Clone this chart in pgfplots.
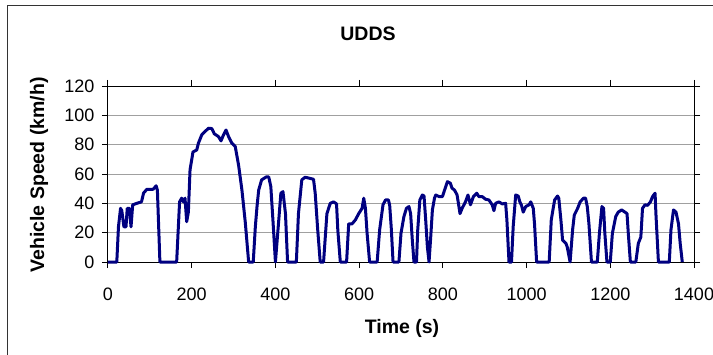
\documentclass[border=0pt]{standalone}
\usepackage{fontspec}
\setmainfont{Liberation Sans}
\usepackage{pgfplots}
\pgfplotsset{compat=1.18}
\definecolor{navyline}{RGB}{0,0,128}
\definecolor{gridgray}{RGB}{160,160,160}
\begin{document}
\begin{tikzpicture}
\begin{axis}[
  at={(0pt,0pt)}, anchor=south west,
  scale only axis, width=586pt, height=176pt,
  xmin=0, xmax=1400, ymin=0, ymax=120,
  xtick={0,200,...,1400}, ytick={0,20,...,120},
  tick align=outside, major tick length=6pt,
  ymajorgrids, grid style={color=gridgray, line width=1pt},
  axis line style={line width=1pt, black},
  tick style={black, line width=1pt},
  ticklabel style={font=\fontsize{18}{20}\selectfont},
  /pgf/number format/assume math mode=true,
  /pgf/number format/1000 sep={},
  xticklabel style={anchor=base, yshift=-32pt},
  yticklabel style={xshift=-4pt},
  clip=false,
]
\addplot[navyline, line width=3pt, line join=round] coordinates {
(0,0) (21,0) (25,24) (30,36.6) (33,35) (38,24) (43,24) (46,36.6) (51,36.6) (55,24)
(59,39) (69,40) (80,41) (85,47) (93,49.6) (108,49.6) (115,52) (118,49) (124,0) (164,0)
(171,41) (176,43.5) (180,41) (184,43.5) (188,27.5) (192,34) (196,62.8) (203,75) (212,76.4) (216,81)
(224,86.7) (232,89) (240,91.2) (248,91) (254,87.4) (264,85.5) (270,82.6) (276,86.7) (282,90) (288,85.5)
(296,81) (304,78.7) (312,66) (320,49) (328,27) (336,0) (347,0) (352,24) (356,37.8) (360,49)
(367,56) (378,58) (384,58) (389,51.4) (394,28.7) (400,0) (408,28.7) (413,46.9) (418,48) (424,33)
(429,0) (450,0) (455,33) (463,56) (471,57.8) (483,57) (491,56.4) (495,47) (501,22) (507,0)
(515,0) (523,33) (531,40) (539,41) (546,39.6) (549,22) (555,0) (570,0) (575,26) (583,26)
(591,28.7) (599,33) (607,36.6) (611,43.5) (615,36.6) (619,19.6) (625,0) (643,0) (649,22) (657,39)
(663,42.3) (670,42.3) (673,38.6) (677,22) (681,0) (695,0) (700,19.6) (707,31) (713,36.6) (719,37.8)
(723,33) (727,15) (731,0) (737,0) (740,22) (745,42.3) (751,45.7) (755,45) (759,28.7) (763,10.4)
(767,0) (771,17) (775,35.5) (780,43.5) (783,45.7) (791,44.6) (799,44.6) (804,49) (811,54.8) (818,53.7)
(822,50.3) (828,49) (834,45.7) (841,33) (846,36.6) (854,41) (860,45.7) (866,39) (873,44.6) (881,46.9)
(886,44.6) (894,44.6) (902,42.8) (910,42.3) (918,39) (922,35) (926,40) (934,41) (942,39.6) (950,40)
(953,28.7) (958,0) (964,0) (968,24) (974,45.7) (980,45) (984,41) (988,38.6) (992,34) (998,37.8)
(1006,39) (1010,41) (1016,36.6) (1019,26) (1024,0) (1054,0) (1059,28.7) (1067,42.3) (1074,45) (1077,43.5)
(1082,28.7) (1086,15) (1094,12.7) (1097,10.4) (1104,0) (1110,22) (1114,32) (1122,36.6) (1128,41) (1136,43.5)
(1141,43.5) (1145,37.8) (1149,26) (1155,0) (1169,0) (1174,19.6) (1180,37.8) (1184,36.6) (1187,19.6) (1192,0)
(1200,0) (1205,19.6) (1213,31) (1219,34) (1227,35.5) (1235,34) (1240,33) (1243,19.6) (1248,0) (1261,0)
(1267,12.7) (1273,17) (1277,36.6) (1283,39) (1289,38.6) (1296,41) (1301,44.6) (1307,46.9) (1309,33) (1315,0)
(1341,0) (1345,22) (1351,35.5) (1357,34) (1363,26) (1367,12.7) (1372,0)
};
\end{axis}
\node[anchor=base, font=\fontsize{19.5}{22}\selectfont\bfseries] at (260pt,222pt) {UDDS};
\node[anchor=base, font=\fontsize{19.5}{22}\selectfont\bfseries] at (294pt,-71pt) {Time (s)};
\node[rotate=90, anchor=center, font=\fontsize{19.5}{22}\selectfont\bfseries] at (-69pt,87pt) {Vehicle Speed (km/h)};
\draw[line width=1.5pt, black!80] (-100.5pt,256.5pt) rectangle (640pt,-130pt);
\pgfresetboundingbox
\useasboundingbox (-108pt,-92pt) rectangle (605pt,262pt);
\end{tikzpicture}
\end{document}
